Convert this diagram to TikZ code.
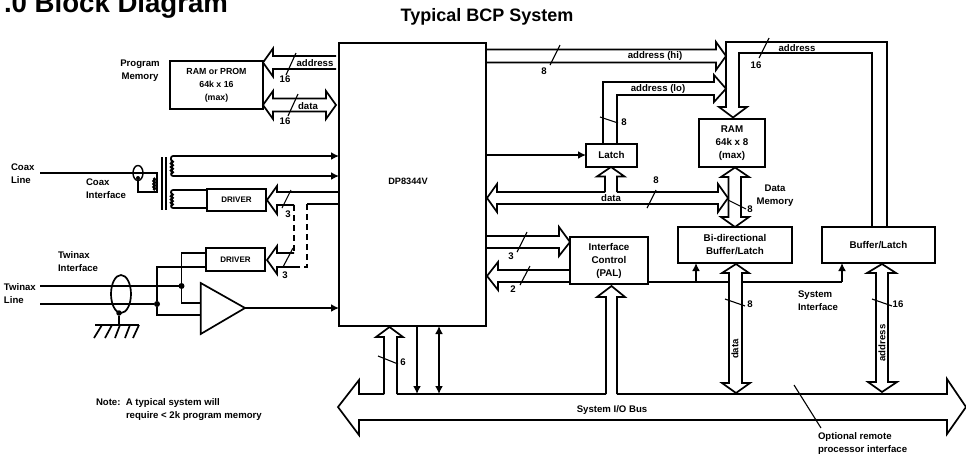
\documentclass[tikz,border=0pt]{standalone}
\usepackage{fontspec}
\setmainfont{Liberation Sans}
\usetikzlibrary{arrows.meta,shapes.geometric}
\newcommand\onebus[3]{\draw[bus,shift={#1},rotate=#2] (#3,-6.5) -- (10,-6.5) -- (10,-14) -- (0,0) -- (10,14) -- (10,6.5) -- (#3,6.5);}
\newcommand\twobus[3]{\draw[bus,shift={#1},rotate=#2] (10,-6.5) -- (10,-14) -- (0,0) -- (10,14) -- (10,6.5) -- ({#3-10},6.5) -- ({#3-10},14) -- (#3,0) -- ({#3-10},-14) -- ({#3-10},-6.5) -- cycle;}
\newcommand\coil[3]{\draw[coilline] (#1,#3) \foreach \k in {1,...,4} { arc[start angle=90,end angle=-90,radius={(#3-#2)/8}] };}
\tikzset{
  every node/.style={inner sep=0pt,outer sep=0pt},
  blk/.style={draw=black,line width=2pt,fill=white,align=center,font=\bfseries\fontsize{9.8}{13}\selectfont},
  txt/.style={align=center,font=\bfseries\fontsize{9.6}{13}\selectfont},
  txtl/.style={align=left,font=\bfseries\fontsize{9.6}{13}\selectfont},
  bus/.style={draw=black,line width=1.7pt,line join=miter},
  wire/.style={draw=black,line width=1.7pt},
  thinw/.style={draw=black,line width=1.1pt},
  dashw/.style={draw=black,line width=1.7pt,dash pattern=on 6pt off 4pt},
  arr/.style={-{Latex[length=8pt,width=8pt]}},
  barr/.style={{Latex[length=8pt,width=8pt]}-{Latex[length=8pt,width=8pt]}},
  coilline/.style={draw=black,line width=2.4pt},
  dot/.style={circle,fill=black,minimum size=6pt}
}
\begin{document}
\begin{tikzpicture}[x=1pt,y=-1pt]
\useasboundingbox (0,0) rectangle (966,456);
% titles
\node[anchor=base east,font=\bfseries\fontsize{27.6}{28}\selectfont] (title) at (228,12.5) {.0 Block Diagram};
\node[font=\bfseries\fontsize{18}{20}\selectfont] (subtitle) at (487,17) {Typical BCP System};
% boxes
\node[blk,minimum width=147pt,minimum height=283pt] (chip) at (412.5,184.5) {};
\node[blk,draw=none,fill=none,font=\bfseries\fontsize{9.2}{13}\selectfont] (chiplabel) at (408,181) {DP8344V};
\node[blk,minimum width=93pt,minimum height=48pt,font=\bfseries\fontsize{8.8}{13}\selectfont] (prog) at (216.5,85) {RAM or PROM\\64k x 16\\(max)};
\node[blk,minimum width=59pt,minimum height=22pt,font=\bfseries\fontsize{8}{13}\selectfont] (drv1) at (236.5,200) {DRIVER};
\node[blk,minimum width=59pt,minimum height=23pt,font=\bfseries\fontsize{8}{13}\selectfont] (drv2) at (235.5,259.5) {DRIVER};
\node[blk,minimum width=51pt,minimum height=23pt] (latch) at (611.5,155) {Latch};
\node[blk,minimum width=66pt,minimum height=48pt] (ram) at (732,143) {RAM\\64k x 8\\(max)};
\node[blk,minimum width=114pt,minimum height=36pt] (bidir) at (735,245) {Bi-directional\\Buffer/Latch};
\node[blk,minimum width=113pt,minimum height=36pt] (buf) at (878.5,245) {Buffer/Latch};
\node[blk,minimum width=78pt,minimum height=47pt] (pal) at (609,260.5) {Interface\\Control\\(PAL)};
\draw[bus,fill=white] (200.7,283) -- (200.7,334) -- (245,308) -- cycle;
\coordinate (amp) at (245,308);
\coordinate (ampa) at (200.7,303);
\coordinate (ampb) at (200.7,315);
% program memory buses
\onebus{(prog.east |- 0,62.5)}{0}{73}
\twobus{(prog.east |- 0,105)}{0}{73}
\draw[thinw] (296,53) -- (286,75);
\draw[thinw] (298,94) -- (288,116);
\node[txt] (l16a) at (285,79) {16};
\node[txt] (l16b) at (285,121) {16};
\node[txt] (laddr) at (315,63) {address};
\node[txt] (ldata) at (308,106) {data};
\node[txt] (lpm) at (140,71) {Program\\Memory};
% coax
\node[txtl,anchor=west] (lcoax) at (11,173.5) {Coax\\Line};
\node[txtl,anchor=west] (lcoaxi) at (86,189) {Coax\\Interface};
\coordinate (cl) at (40,173);
\node[draw=black,line width=1.4pt,ellipse,minimum width=10pt,minimum height=15pt] (cring) at (138,173) {};
\node[dot,minimum size=4pt] (cdot) at (138,178) {};
\draw[wire] (cl) -- (157,173) -- (157,192) -- (138,192) -- (cdot);
\coil{153.5}{178}{190}
\draw[wire] (162,157) -- (162,210);
\draw[wire] (166,157) -- (166,210);
\coil{171}{160}{174}
\coil{171}{193}{206}
\draw[wire,arr,rounded corners=2pt] (171,160) -- (171,156) -- (chip.west |- 0,156);
\draw[wire,arr,rounded corners=2pt] (171,174) -- (171,176) -- (chip.west |- 0,176);
\draw[wire,rounded corners=2pt] (171,193) -- (171,190) -- (drv1.west |- 0,190);
\draw[wire,rounded corners=2pt] (171,206) -- (171,208) -- (drv1.west |- 0,208);
% driver 1 bus
\draw[bus] (chip.west |- 0,192) -- (277,192) -- (277,186) -- (267,200) -- (277,214) -- (277,205) -- (294,205);
\draw[dashw] (294,205) -- (294,253);
\draw[wire] (chip.west |- 0,204) -- (307,204);
\draw[dashw] (307,204) -- (307,267) -- (296,267);
\draw[bus] (294,253) -- (277,253) -- (277,246) -- (267,260) -- (277,274) -- (277,267) -- (296,267);
\draw[thinw] (291,190) -- (282,208);
\draw[thinw] (293,248) -- (283,267);
\node[txt] (l3a) at (288,214) {3};
\node[txt] (l3b) at (285,275) {3};
% twinax
\node[txtl,anchor=west] (ltwi) at (58,261.5) {Twinax\\Interface};
\node[txtl,anchor=west] (ltw) at (4,294) {Twinax\\Line};
\node[dot] (d1) at (181.5,286) {};
\node[dot] (d2) at (157,304) {};
\coordinate (t1) at (40,286);
\coordinate (t2) at (40,304);
\draw[wire] (t1) -- (d1);
\draw[wire] (t2) -- (d2);
\draw[wire] (drv2.west |- 0,253) -- (181.5,253) -- (d1) -- (181.5,303) -- (ampa);
\draw[wire] (drv2.west |- 0,267) -- (157,267) -- (d2) -- (157,315) -- (ampb);
\draw[wire] (121,294) ellipse[x radius=10,y radius=19];
\node[dot,minimum size=5.5pt] (gd) at (119,313) {};
\draw[wire] (gd) -- (119,325);
\draw[wire] (95,325) -- (139,325);
\foreach \a/\b in {102/94,112/105,120/115,130/125,139/133} \draw[wire] (\a,325) -- (\b,338);
\draw[wire,arr] (amp) -- (chip.west |- amp);
% right side buses
\onebus{(726,56)}{180}{240}
\draw[thinw] (560,45) -- (550,65);
\node[txt] (l8a) at (544,71) {8};
\node[txt] (lhi) at (655,56.5) {address (hi)};
\draw[bus] (latch.north -| 603,0) -- (603,82) -- (714,82) -- (714,75) -- (726,88.7) -- (714,102) -- (714,95) -- (617,95) -- (latch.north -| 617,0);
\draw[thinw] (600,117) -- (618,123);
\node[txt] (l8b) at (624,122) {8};
\node[txt] (llo) at (658,89.5) {address (lo)};
\draw[bus] (buf.north -| 887,0) -- (887,42) -- (726,42) -- (726,107) -- (719,107) -- (733,117.5) -- (747,107) -- (739,107) -- (739,53) -- (872,53) -- (buf.north -| 872,0);
\draw[thinw] (769,38) -- (759,58);
\node[txt] (l16c) at (756,65) {16};
\node[txt] (laddrb) at (797,48) {address};
\draw[wire,arr] (chip.east |- latch.west) -- (latch.west);
% data bus
\draw[bus] (605,192) -- (497,192) -- (497,184) -- (487,198) -- (497,212) -- (497,204) -- (718,204) -- (718,212) -- (728,198) -- (718,184) -- (718,192) -- (617,192);
\draw[bus] (605,192) -- (605,176.5) -- (597,176.5) -- (611,167) -- (624.5,176.5) -- (617,176.5) -- (617,192);
\node[txt] (ldatb) at (611,198.5) {data};
\draw[thinw] (656,190) -- (647,208);
\node[txt] (l8c) at (656,180) {8};
% RAM to bidir
\draw[bus] (728.5,177) -- (721,177) -- (735,167.5) -- (749,177) -- (741,177) -- (741,217) -- (749,217) -- (735,227) -- (721,217) -- (728.5,217) -- cycle;
\draw[thinw] (728,200) -- (746,209);
\node[txt] (l8d) at (750,209) {8};
\node[txt] (ldm) at (775,196) {Data\\Memory};
% PAL arrows
\draw[bus] (chip.east |- 0,236) -- (559,236) -- (559,227) -- (570,242) -- (559,256) -- (559,248) -- (chip.east |- 0,248);
\draw[thinw] (527,232) -- (517,252);
\node[txt] (l3c) at (511,256) {3};
\draw[bus] (pal.west |- 0,270) -- (498,270) -- (498,262) -- (487,276) -- (498,290) -- (498,282) -- (pal.west |- 0,282);
\draw[thinw] (530,266) -- (520,285);
\node[txt] (l2) at (513,289) {2};
% chip to system bus
\draw[bus] (384,394) -- (384,337) -- (376,337) -- (389.5,327) -- (403,337) -- (397,337) -- (397,394);
\draw[thinw] (378,356) -- (398,364);
\node[txt] (l6) at (403,362) {6};
\coordinate (b1) at (417,394);
\coordinate (b2) at (439,394);
\draw[wire,arr] (chip.south -| b1) -- (b1);
\draw[wire,barr] (chip.south -| b2) -- (b2);
% system bus
\draw[bus] (384,394) -- (359,394) -- (359,380) -- (338,407) -- (359,435) -- (359,420) -- (947,420) -- (947,434) -- (966,407) -- (947,379) -- (947,394) -- (617,394);
\draw[bus] (397,394) -- (606,394);
\draw[bus] (606,394) -- (606,297) -- (597,297) -- (611.5,286) -- (625,297) -- (617,297) -- (617,394);
\node[txt] (lsys) at (612,410) {System I/O Bus};
% system interface
\draw[wire] (pal.east |- 0,282) -- (729,282);
\coordinate (j1) at (696,282);
\draw[wire,arr] (j1) -- (bidir.south -| j1);
\draw[wire] (742,282) -- (842,282);
\coordinate (j2) at (842,282);
\draw[wire,arr] (j2) -- (buf.south -| j2);
\node[txtl,anchor=west] (lsi) at (798,300.5) {System\\Interface};
% bidir data
\draw[bus] (729,273) -- (722,273) -- (736,264) -- (749,273) -- (742,273) -- (742,383) -- (750,383) -- (736,393) -- (722,383) -- (729,383) -- cycle;
\draw[thinw] (725,299) -- (745,306);
\node[txt] (l8e) at (750,304) {8};
\node[txt,rotate=90] (ldatc) at (735,349) {data};
% buffer address
\draw[bus] (876,273) -- (867,273) -- (882,264) -- (896,273) -- (888,273) -- (888,382) -- (897,382) -- (882,392) -- (868,382) -- (876,382) -- cycle;
\draw[thinw] (872,299) -- (892,306);
\node[txt] (l16d) at (898,304) {16};
\node[txt,rotate=90] (laddrc) at (882,343) {address};
% optional
\coordinate (o1) at (794,385);
\node[txtl,anchor=north west] (lopt) at (818,433) {Optional remote\\processor interface};
\draw[thinw] (o1) -- (821,428);
% note
\node[txtl,anchor=west] (lnote) at (96,409.5) {Note:\ \ A typical system will\\\hspace*{30pt}require < 2k program memory};
\end{tikzpicture}
\end{document}
